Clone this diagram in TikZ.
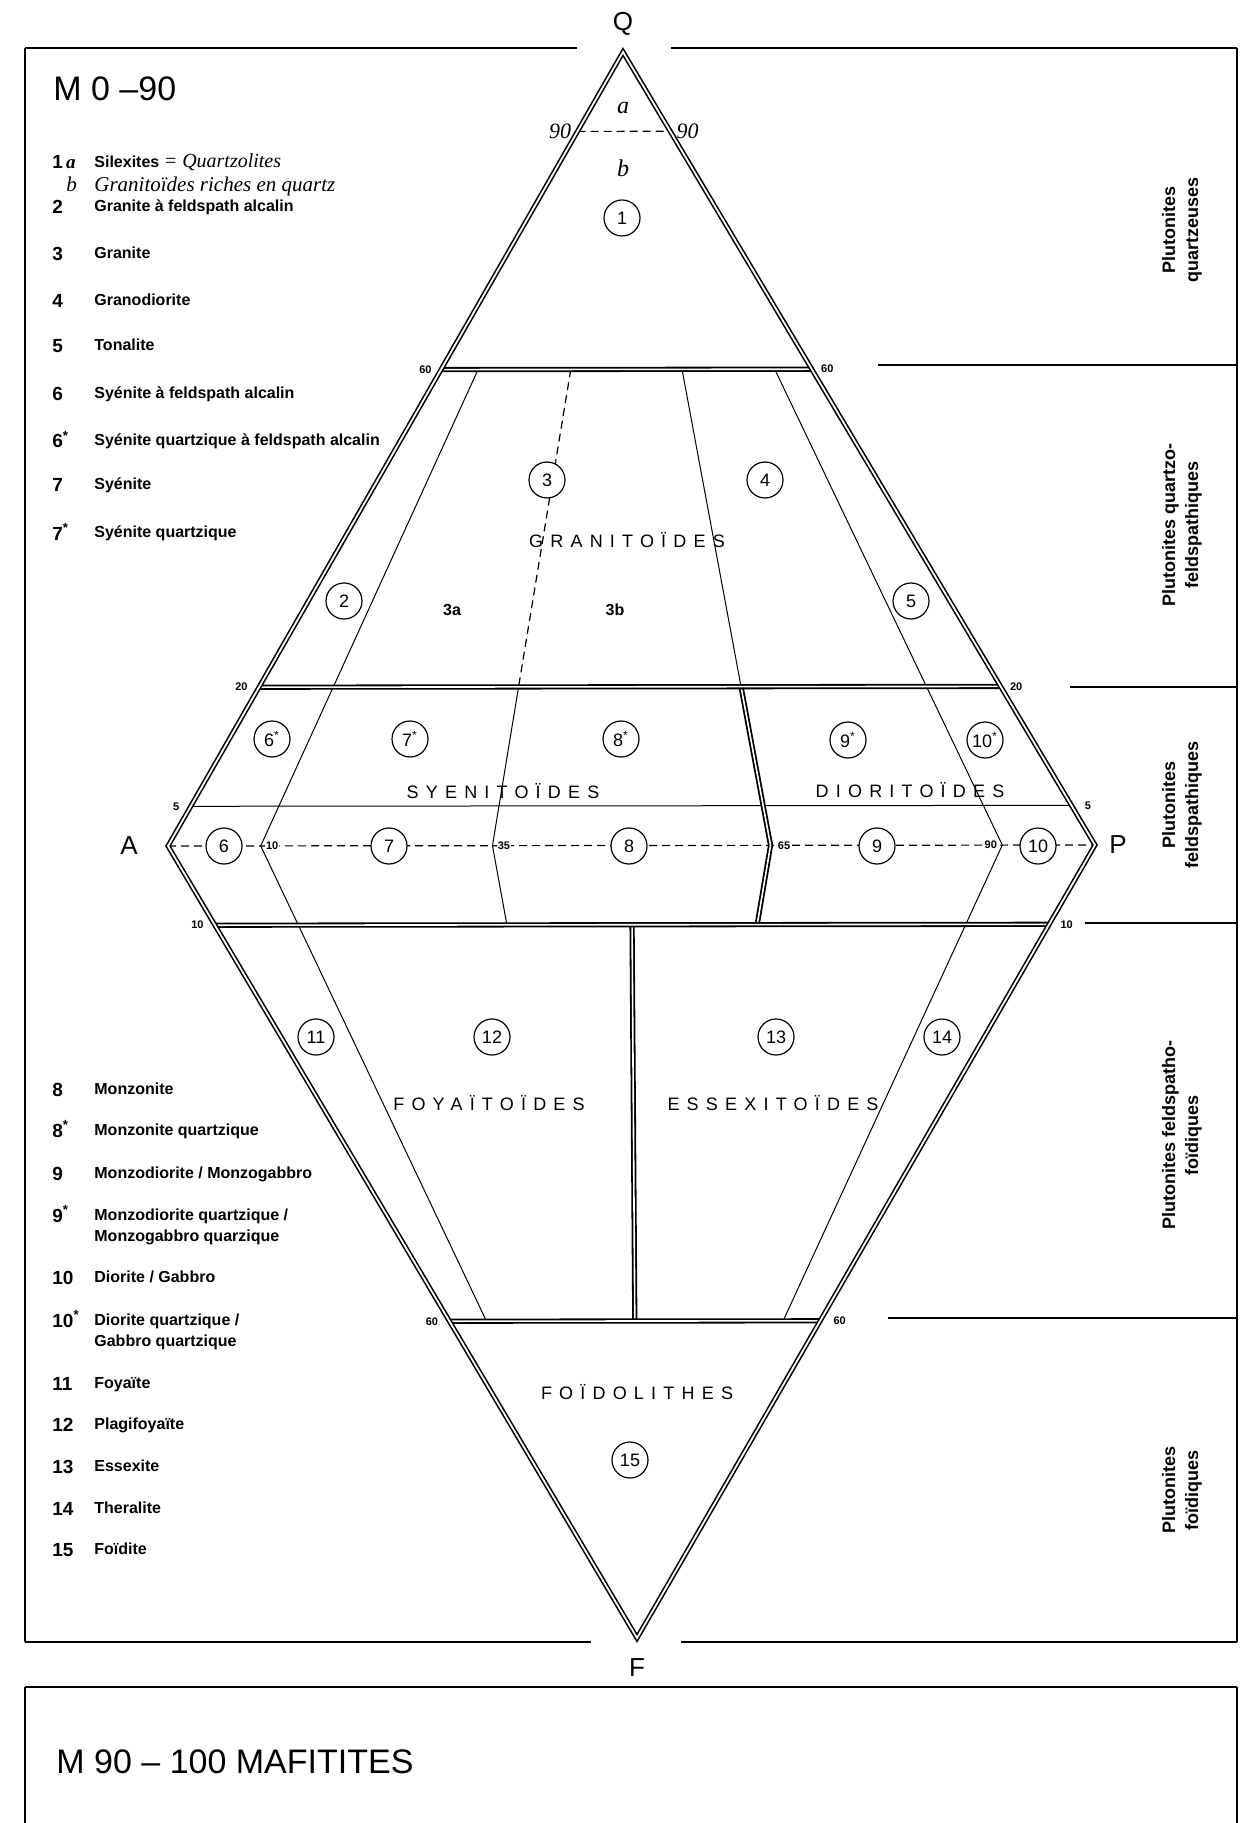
\documentclass[tikz,border=0pt]{standalone}
\usepackage{fontspec}
\setmainfont{Liberation Sans}
\newfontfamily\fieldfont[LetterSpace=40]{Liberation Sans}
\newfontfamily\handfont{Liberation Serif}
\usetikzlibrary{calc, positioning}
\tikzset{
  rim/.style={draw, line width=0.8pt, double, double distance=0.9pt, line join=miter},
  bar/.style={draw, line width=0.9pt, double, double distance=0.8pt},
  split/.style={draw, line width=0.5pt},
  guide/.style={draw, line width=0.6pt, dash pattern=on 4pt off 2.5pt},
  frame/.style={draw, line width=1.4pt},
  side/.style={draw, line width=0.6pt},
  field/.style={inner sep=0pt, font=\fieldfont\fontsize{9}{10}\selectfont},
  num/.style={circle, draw, line width=0.6pt, fill=white, minimum size=18pt,
              inner sep=0pt, font=\fontsize{9}{9}\selectfont},
  tick/.style={inner sep=0.5pt, font=\bfseries\fontsize{5.5}{6}\selectfont},
  vertex/.style={inner sep=0pt, font=\fontsize{13}{13}\selectfont},
  hand/.style={inner sep=0pt, font=\handfont\itshape\fontsize{11}{12}\selectfont},
  legnum/.style={anchor=base west, inner sep=0pt, font=\bfseries\fontsize{9.5}{10}\selectfont},
  legtxt/.style={anchor=base west, inner sep=0pt, align=left,
                 font=\bfseries\fontsize{8}{10.5}\selectfont},
  group/.style={rotate=90, align=center, inner sep=0pt,
                font=\bfseries\fontsize{9}{11.5}\selectfont},
  title/.style={anchor=west, inner sep=0pt, font=\fontsize{17}{17}\selectfont},
}
\newcommand{\st}[1]{#1\textsuperscript{*}}

\begin{document}
\begin{tikzpicture}[x=0.5pt, y=-0.5pt]
  \useasboundingbox (0,0) rectangle (1244,1823);

  % ---- frames ----
  \draw[frame] (25,48) -- (577,48);
  \draw[frame] (671,48) -- (1237,48);
  \draw[side] (25,48) -- (25,1642);
  \draw[side] (1237,48) -- (1237,1642);
  \draw[frame] (25,1642) -- (591,1642);
  \draw[frame] (681,1642) -- (1237,1642);
  \draw[frame] (25,1687) -- (1237,1687);
  \draw[side] (25,1687) -- (25,1823);
  \draw[side] (1237,1687) -- (1237,1823);

  % right column separators
  \draw[frame, line width=0.9pt] (878,365) -- (1237,365);
  \draw[frame, line width=0.9pt] (1070,687) -- (1237,687);
  \draw[frame, line width=0.9pt] (1085,923) -- (1237,923);
  \draw[frame, line width=0.9pt] (888,1318) -- (1237,1318);

  % ---- the double triangle ----
  \coordinate (Q) at (623,52);
  \coordinate (A) at (168,846);
  \coordinate (P) at (1095,845);
  \coordinate (F) at (637,1638);

  \coordinate (ap10) at ($(A)!0.10!(P)$);
  \coordinate (ap35) at ($(A)!0.35!(P)$);
  \coordinate (ap50) at ($(A)!0.50!(P)$);
  \coordinate (ap65) at ($(A)!0.65!(P)$);
  \coordinate (ap90) at ($(A)!0.90!(P)$);

  \coordinate (l90) at ($(A)!0.90!(Q)$);
  \coordinate (r90) at ($(P)!0.90!(Q)$);
  \coordinate (l60) at ($(A)!0.60!(Q)$);
  \coordinate (r60) at ($(P)!0.60!(Q)$);
  \coordinate (l20) at ($(A)!0.20!(Q)$);
  \coordinate (r20) at ($(P)!0.20!(Q)$);
  \coordinate (l5) at ($(A)!0.05!(Q)$);
  \coordinate (r5) at ($(P)!0.05!(Q)$);
  \coordinate (lf10) at ($(A)!0.10!(F)$);
  \coordinate (rf10) at ($(P)!0.10!(F)$);
  \coordinate (lf60) at ($(A)!0.60!(F)$);
  \coordinate (rf60) at ($(P)!0.60!(F)$);

  \coordinate (u10) at ($(ap10)!0.6!(Q)$);
  \coordinate (u35) at ($(ap35)!0.6!(Q)$);
  \coordinate (m35) at ($(ap35)!0.2!(Q)$);
  \coordinate (u65) at ($(ap65)!0.6!(Q)$);
  \coordinate (m65) at ($(ap65)!0.2!(Q)$);
  \coordinate (u90) at ($(ap90)!0.6!(Q)$);
  \coordinate (d10) at ($(ap10)!0.6!(F)$);
  \coordinate (d35) at ($(ap35)!0.1!(F)$);
  \coordinate (d65) at ($(ap65)!0.1!(F)$);
  \coordinate (d90) at ($(ap90)!0.6!(F)$);
  \coordinate (t50) at ($(ap50)!0.1!(F)$);
  \coordinate (b50) at ($(ap50)!0.6!(F)$);

  % dashed guides
  \draw[guide] (l90) -- (r90);
  \draw[guide] (A) -- (P);
  \draw[guide] (u35) -- (m35);

  % thin field limits
  \draw[split] (u10) -- (ap10) -- (d10);
  \draw[split] (u90) -- (ap90) -- (d90);
  \draw[split] (m35) -- (ap35) -- (d35);
  \draw[split] (u65) -- (m65);
  \draw[split] (l5) -- (r5);

  % double limits
  \draw[bar] (m65) -- (ap65) -- (d65);
  \draw[bar] (t50) -- (b50);
  \draw[bar] (l60) -- (r60);
  \draw[bar] (l20) -- (r20);
  \draw[bar] (lf10) -- (rf10);
  \draw[bar] (lf60) -- (rf60);
  \draw[rim] (Q) -- (P) -- (F) -- (A) -- cycle;

  % ---- corner letters and ticks ----
  \node[vertex, above=8pt of Q] (qlab) {Q};
  \node[vertex, left=15pt of A] (alab) {A};
  \node[vertex, right=7pt of P] (plab) {P};
  \node[vertex, below=10pt of F] (flab) {F};

  \node[hand, left=3pt of l90] (h90l) {90};
  \node[hand, right=3pt of r90] (h90r) {90};
  \node[tick, left=4pt of l60] (t60l) {60};
  \node[tick, right=4pt of r60] (t60r) {60};
  \node[tick, left=5pt of l20] (t20l) {20};
  \node[tick, right=4pt of r20] (t20r) {20};
  \node[tick, left=5pt of l5] (t5l) {5};
  \node[tick, right=6pt of r5] (t5r) {5};
  \node[tick, left=5pt of lf10] (t10l) {10};
  \node[tick, right=5pt of rf10] (t10r) {10};
  \node[tick, left=5pt of lf60] (tf60l) {60};
  \node[tick, right=6pt of rf60] (tf60r) {60};
  \node[tick, fill=white, right=2pt of ap10] (p10) {10};
  \node[tick, fill=white, right=2pt of ap35] (p35) {35};
  \node[tick, fill=white, right=3pt of ap65] (p65) {65};
  \node[tick, fill=white, left=2pt of ap90] (p90) {90};

  % ---- fields ----
  \node[hand, font=\handfont\itshape\fontsize{12}{12}\selectfont] (qa) at (623,108) {a};
  \node[hand, font=\handfont\itshape\fontsize{12}{12}\selectfont] (qb) at (623,168) {b};
  \node[num] (n1) at (622,218) {1};

  \node[num] (n2) at (344,601) {2};
  \node[num] (n3) at (547,480) {3};
  \node[num] (n4) at (765,480) {4};
  \node[num] (n5) at (911,601) {5};
  \node[field] (granit) at (627,540) {GRANITOÏDES};
  \node[tick, font=\bfseries\fontsize{8}{8}\selectfont] (g3a) at (452,610) {3a};
  \node[tick, font=\bfseries\fontsize{8}{8}\selectfont] (g3b) at (615,610) {3b};

  \node[num] (n6s) at (272,739) {\st{6}};
  \node[num] (n7s) at (410,739) {\st{7}};
  \node[num] (n8s) at (621,739) {\st{8}};
  \node[num] (n9s) at (848,740) {\st{9}};
  \node[num] (n10s) at (985,740) {\st{10}};
  \node[field] (syenit) at (503,791) {SYENITOÏDES};
  \node[field] (diorit) at (910,790) {DIORITOÏDES};

  \node[num] (n6) at (224,846) {6};
  \node[num] (n7) at (389,846) {7};
  \node[num] (n8) at (629,846) {8};
  \node[num] (n9) at (877,846) {9};
  \node[num] (n10) at (1038,846) {10};

  \node[num] (n11) at (316,1037) {11};
  \node[num] (n12) at (492,1037) {12};
  \node[num] (n13) at (776,1037) {13};
  \node[num] (n14) at (942,1037) {14};
  \node[field] (foyait) at (489,1103) {FOYAÏTOÏDES};
  \node[field] (essexit) at (773,1103) {ESSEXITOÏDES};

  \node[field] (foidol) at (637,1392) {FOÏDOLITHES};
  \node[num] (n15) at (630,1460) {15};

  % ---- groups (right column) ----
  \node[group] (gq) at (1182,230) {Plutonites\\quartzeuses};
  \node[group] (gqf) at (1182,525) {Plutonites quartzo-\\feldspathiques};
  \node[group] (gf) at (1182,805) {Plutonites\\feldspathiques};
  \node[group] (gff) at (1182,1135) {Plutonites feldspatho-\\foïdiques};
  \node[group] (gfo) at (1182,1490) {Plutonites\\foïdiques};

  % ---- titles ----
  \node[title] (m090) at (53,89) {M 0 –90};
  \node[title] (m90100) at (56,1762) {M 90 – 100 MAFITITES};

  % ---- legend ----
  \node[legnum] (k1) at (52,169) {1\,{\handfont\itshape a}};
  \node[legtxt] (x1) at (94,168) {Silexites {\handfont\itshape\mdseries\fontsize{10}{11}\selectfont = Quartzolites}};
  \node[legnum, font=\handfont\itshape\fontsize{10.5}{11}\selectfont] (kb) at (66,192) {b};
  \node[legtxt, font=\handfont\itshape\fontsize{10.5}{11}\selectfont] (xb) at (94,192) {Granitoïdes riches en quartz};
  \node[legnum] (k2) at (52,214) {2};
  \node[legtxt] (x2) at (94,212) {Granite à feldspath alcalin};
  \node[legnum] (k3) at (52,261) {3};
  \node[legtxt] (x3) at (94,259) {Granite};
  \node[legnum] (k4) at (52,308) {4};
  \node[legtxt] (x4) at (94,306) {Granodiorite};
  \node[legnum] (k5) at (52,353) {5};
  \node[legtxt] (x5) at (94,351) {Tonalite};
  \node[legnum] (k6) at (52,401) {6};
  \node[legtxt] (x6) at (94,399) {Syénite à feldspath alcalin};
  \node[legnum] (k6s) at (52,448) {\st{6}};
  \node[legtxt] (x6s) at (94,446) {Syénite quartzique à feldspath alcalin};
  \node[legnum] (k7) at (52,492) {7};
  \node[legtxt] (x7) at (94,490) {Syénite};
  \node[legnum] (k7s) at (52,540) {\st{7}};
  \node[legtxt] (x7s) at (94,538) {Syénite quartzique};

  \node[legnum] (k8) at (52,1096) {8};
  \node[legtxt] (x8) at (94,1094) {Monzonite};
  \node[legnum] (k8s) at (52,1137) {\st{8}};
  \node[legtxt] (x8s) at (94,1135) {Monzonite quartzique};
  \node[legnum] (k9) at (52,1180) {9};
  \node[legtxt] (x9) at (94,1178) {Monzodiorite / Monzogabbro};
  \node[legnum] (k9s) at (52,1222) {\st{9}};
  \node[legtxt] (x9s) at (94,1241) {Monzodiorite quartzique /\\Monzogabbro quarzique};
  \node[legnum] (k10) at (52,1284) {10};
  \node[legtxt] (x10) at (94,1282) {Diorite / Gabbro};
  \node[legnum] (k10s) at (52,1327) {\st{10}};
  \node[legtxt] (x10s) at (94,1346) {Diorite quartzique /\\Gabbro quartzique};
  \node[legnum] (k11) at (52,1390) {11};
  \node[legtxt] (x11) at (94,1388) {Foyaïte};
  \node[legnum] (k12) at (52,1431) {12};
  \node[legtxt] (x12) at (94,1429) {Plagifoyaïte};
  \node[legnum] (k13) at (52,1473) {13};
  \node[legtxt] (x13) at (94,1471) {Essexite};
  \node[legnum] (k14) at (52,1515) {14};
  \node[legtxt] (x14) at (94,1513) {Theralite};
  \node[legnum] (k15) at (52,1556) {15};
  \node[legtxt] (x15) at (94,1554) {Foïdite};
\end{tikzpicture}
\end{document}
